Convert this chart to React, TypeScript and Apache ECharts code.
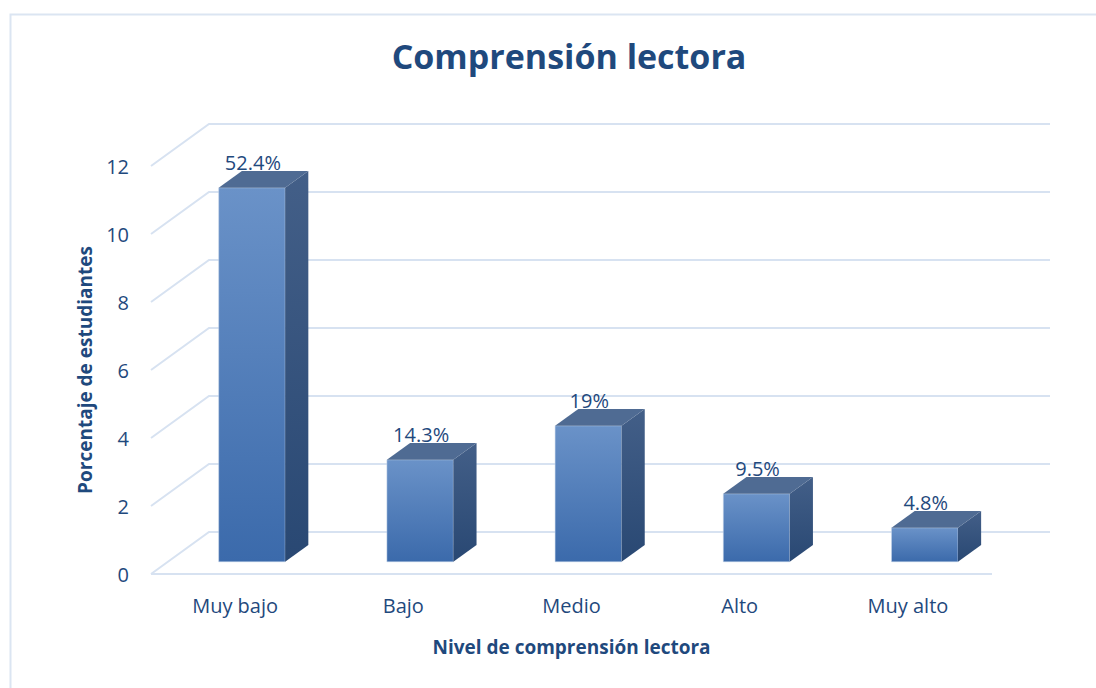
import React, { useEffect, useRef } from "react";
import * as echarts from "echarts";

const categories = ["Muy bajo", "Bajo", "Medio", "Alto", "Muy alto"];
const values = [11, 3, 4, 2, 1];
const percentLabels = ["52.4%", "14.3%", "19%", "9.5%", "4.8%"];
const yTicks = [0, 2, 4, 6, 8, 10, 12];

const TEXT = "#1f497d";
const GRID = "#d7e2f1";
const FONT = "'Open Sans', 'Noto Sans', sans-serif";
const DEPTH_X = 58;
const DEPTH_Y = -42;
const FRONT_F = 0.29;
const BACK_F = 0.69;

export default function App() {
  const ref = useRef<HTMLDivElement>(null);
  useEffect(() => {
    if (!ref.current) return;
    const chart = echarts.init(ref.current, null, { renderer: "svg" });
    const frontGrad = new echarts.graphic.LinearGradient(0, 0, 0, 1, [
      { offset: 0, color: "#6a92c8" },
      { offset: 1, color: "#3b6aab" },
    ]);
    const sideGrad = new echarts.graphic.LinearGradient(0, 0, 0, 1, [
      { offset: 0, color: "#435f88" },
      { offset: 1, color: "#294873" },
    ]);
    const option: any = {
      animation: false,
      backgroundColor: "#ffffff",
      title: {
        text: "Comprensión lectora",
        left: 564,
        top: 34,
        textAlign: "center",
        textStyle: { color: TEXT, fontSize: 34, fontWeight: "bold", fontFamily: FONT },
      },
      graphic: [
        {
          type: "rect",
          left: 8,
          top: 12,
          shape: { width: 1300, height: 900 },
          style: { fill: "none", stroke: "#dbe5f2", lineWidth: 2 },
          z: -10,
        },
      ],
      grid: { left: 151, right: 104, top: 166, bottom: 114, containLabel: false },
      xAxis: {
        type: "category",
        data: categories,
        axisLine: { show: false },
        axisTick: { show: false },
        axisLabel: { color: TEXT, fontSize: 20, fontFamily: FONT, margin: 21 },
        name: "Nivel de comprensión lectora",
        nameLocation: "middle",
        nameGap: 63,
        nameTextStyle: { color: TEXT, fontSize: 19, fontWeight: "bold", fontFamily: FONT },
      },
      yAxis: {
        type: "value",
        min: 0,
        max: 12,
        interval: 2,
        axisLine: { show: false },
        axisTick: { show: false },
        splitLine: { show: false },
        axisLabel: { color: TEXT, fontSize: 20, fontFamily: FONT, margin: 22 },
        name: "Porcentaje de estudiantes",
        nameLocation: "middle",
        nameRotate: 90,
        nameGap: 57,
        nameTextStyle: { color: TEXT, fontSize: 19, fontWeight: "bold", fontFamily: FONT },
      },
      series: [
        {
          type: "custom",
          z: 1,
          silent: true,
          data: yTicks.map((t) => [0, t]),
          renderItem: (params: any, api: any) => {
            const v = api.value(1);
            const p = api.coord([0, v]);
            const cs = params.coordSys;
            const x0 = cs.x;
            const x1 = cs.x + cs.width;
            const y = p[1];
            const children: any[] = [
              {
                type: "polyline",
                shape: {
                  points: [
                    [x0, y],
                    [x0 + DEPTH_X, y + DEPTH_Y],
                    [x1 + DEPTH_X, y + DEPTH_Y],
                  ],
                },
                style: { stroke: GRID, lineWidth: 2, fill: "none" },
              },
            ];
            if (v === 0) {
              children.push({
                type: "line",
                shape: { x1: x0, y1: y, x2: x1, y2: y },
                style: { stroke: GRID, lineWidth: 2 },
              });
            }
            return { type: "group", children };
          },
        },
        {
          type: "custom",
          z: 2,
          data: values.map((v, i) => [i, v, percentLabels[i]]),
          renderItem: (params: any, api: any) => {
            const i = api.value(0);
            const v = api.value(1);
            const top = api.coord([i, v]);
            const base = api.coord([i, 0]);
            const bw = api.size([1, 0])[0] * 0.395;
            const fx = DEPTH_X * FRONT_F;
            const fy = DEPTH_Y * FRONT_F;
            const bx = DEPTH_X * BACK_F;
            const by = DEPTH_Y * BACK_F;
            const l = top[0] - bw / 2 + fx;
            const r = top[0] + bw / 2 + fx;
            const t = top[1] + fy;
            const b = base[1] + fy;
            const dx = bx - fx;
            const dy = by - fy;
            return {
              type: "group",
              children: [
                {
                  type: "polygon",
                  shape: { points: [[l, t], [r, t], [r, b], [l, b]] },
                  style: { fill: frontGrad, stroke: "rgba(200,215,235,0.5)", lineWidth: 1 },
                },
                {
                  type: "polygon",
                  shape: { points: [[r, t], [r + dx, t + dy], [r + dx, b + dy], [r, b]] },
                  style: { fill: sideGrad },
                },
                {
                  type: "polygon",
                  shape: { points: [[l, t], [l + dx, t + dy], [r + dx, t + dy], [r, t]] },
                  style: { fill: "#4f6b93" },
                },
                {
                  type: "text",
                  x: (l + r) / 2 + 1,
                  y: t + dy - 9,
                  style: {
                    text: api.value(2),
                    textAlign: "center",
                    textVerticalAlign: "middle",
                    fill: TEXT,
                    fontSize: 20,
                    fontFamily: FONT,
                  },
                },
              ],
            };
          },
        },
      ],
    };
    chart.setOption(option);
    return () => chart.dispose();
  }, []);
  return (
    <div
      ref={ref}
      style={{ position: "absolute", left: 0, top: 0, width: 1096, height: 688 }}
    />
  );
}
